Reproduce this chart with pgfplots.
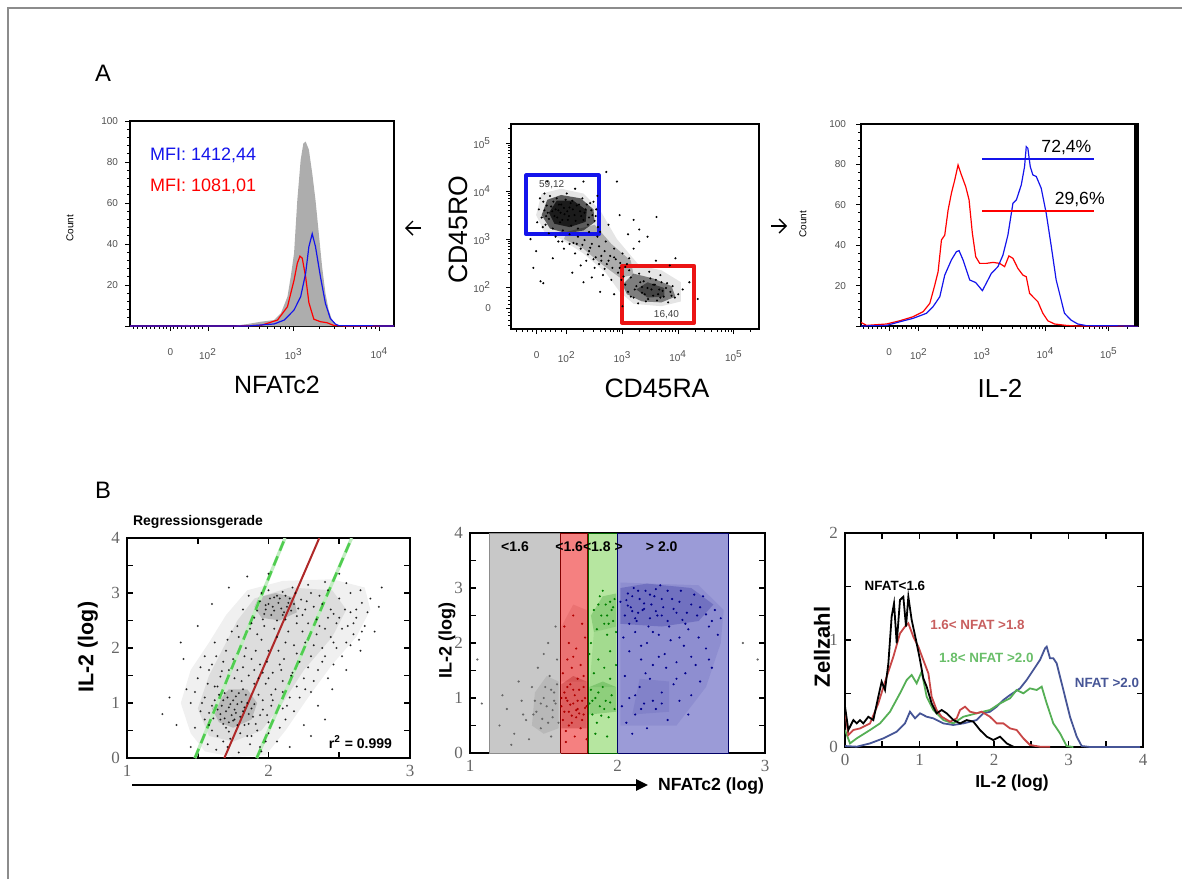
\documentclass[border=0pt]{standalone}
\usepackage{fontspec}
\setmainfont{Liberation Sans}
\newfontfamily\serif{Liberation Serif}
\usepackage{pgfplots}
\pgfplotsset{compat=1.18}
\usetikzlibrary{arrows.meta}

\definecolor{gateblue}{RGB}{20,20,235}
\definecolor{gatered}{RGB}{235,20,20}
\definecolor{tk}{RGB}{80,80,80}
\definecolor{bgray}{RGB}{200,200,200}
\definecolor{bred}{RGB}{245,128,128}
\definecolor{bgreen}{RGB}{182,230,160}
\definecolor{bblue}{RGB}{155,155,215}
\definecolor{cred}{RGB}{200,70,70}
\definecolor{cgreen}{RGB}{85,175,85}
\definecolor{cblue}{RGB}{70,85,150}
\definecolor{lred}{RGB}{200,95,95}
\definecolor{lgreen}{RGB}{105,190,105}
\definecolor{regred}{RGB}{175,40,40}
\definecolor{reggreen}{RGB}{80,205,80}
\definecolor{frame}{RGB}{140,140,140}

\pgfplotsset{
  facs/.style={scale only axis, anchor=south west,
    axis line style={line width=0.7pt},
    tick align=outside, tick pos=left,
    major tick length=2.5pt, minor tick length=1.4pt,
    every tick/.append style={black, line width=0.45pt},
    tick label style={font=\fontsize{5}{6}\selectfont, text=tk},
    xticklabel style={yshift=-5pt},
    /pgf/number format/assume math mode=true},
  simb/.style={scale only axis, anchor=south west,
    axis line style={line width=0.9pt},
    tick align=inside, major tick length=3pt,
    every tick/.append style={black, line width=0.8pt},
    tick label style={font=\serif\fontsize{8.5}{9}\selectfont, text=black!60},
    /pgf/number format/assume math mode=true},
}

\begin{document}
\begin{tikzpicture}
\path[use as bounding box] (0pt,0pt) rectangle (591pt,-439.5pt);

% ---------------- A1: NFATc2 histogram
\begin{axis}[facs, at={(65pt,-163pt)}, width=132pt, height=102.5pt,
  xmin=1.09, xmax=4.17, ymin=0, ymax=100,
  xtick={1.56,2,3,4},
  xticklabels={0,10\textsuperscript{2},10\textsuperscript{3},10\textsuperscript{4}},
  minor xtick={1.13,1.18,1.23,1.28,1.33,1.38,1.43,1.48,1.52,1.60,1.64,1.69,1.74,1.79,1.84,1.89,1.94,
    2.301,2.477,2.602,2.699,2.778,2.845,2.903,2.954,3.301,3.477,3.602,3.699,3.778,3.845,3.903,3.954},
  ytick={0,20,40,60,80,100}, yticklabels={,20,40,60,80,100}, minor y tick num=4]
\addplot[fill=black!32, draw=none] coordinates {
  (1.09,0) (1.65,0) (1.75,0.6) (1.85,0) (2.3,0) (2.465,1.0) (2.618,2.1) (2.772,2.9)
  (2.85,6.2) (2.927,14.3) (2.965,24) (3.004,35.5) (3.042,61.5) (3.081,81) (3.112,89)
  (3.139,90) (3.177,86) (3.216,74.5) (3.254,61.5) (3.293,45) (3.331,29) (3.37,16)
  (3.408,7.8) (3.447,2.9) (3.505,0.3) (3.6,0) (4.17,0)};
\addplot[red, line width=0.6pt] coordinates {
  (1.09,0) (2.3,0) (2.618,0.3) (2.811,2.9) (2.927,9.4) (3.004,22.4) (3.042,30.6)
  (3.073,34.1) (3.1,33) (3.139,24) (3.177,11.4) (3.235,3.3) (3.312,2.1) (3.389,1.6)
  (3.466,0.3) (3.6,0) (4.17,0)};
\addplot[gateblue, line width=0.6pt] coordinates {
  (1.09,0) (2.465,0) (2.772,1) (2.889,2.9) (3.004,7.8) (3.081,14.3) (3.139,25.7)
  (3.177,38.7) (3.216,45) (3.254,38.7) (3.312,24) (3.37,11) (3.427,3.7) (3.485,1)
  (3.524,0.2) (4.17,0)};
\end{axis}

% ---------------- A2: CD45RA / CD45RO dot plot
\begin{axis}[facs, at={(255.5pt,-164.5pt)}, width=124pt, height=102.5pt,
  xmin=1.0, xmax=5.45, ymin=1.125, ymax=5.4,
  xtick={1.46,2,3,4,5},
  xticklabels={0,10\textsuperscript{2},10\textsuperscript{3},10\textsuperscript{4},10\textsuperscript{5}},
  ytick={1.56,2,3,4,5},
  yticklabels={0,10\textsuperscript{2},10\textsuperscript{3},10\textsuperscript{4},10\textsuperscript{5}},
  yticklabel style={xshift=-4pt},
  minor xtick={1.1,1.2,1.3,1.38,1.54,1.62,1.7,1.8,1.9,2.301,2.477,2.602,2.699,2.778,2.845,2.903,2.954,
    3.301,3.477,3.602,3.699,3.778,3.845,3.903,3.954,4.301,4.477,4.602,4.699,4.778,4.845,4.903,4.954,5.301},
  minor ytick={1.2,1.3,1.4,1.48,1.64,1.72,1.8,1.9,2.301,2.477,2.602,2.699,2.778,2.845,2.903,2.954,
    3.301,3.477,3.602,3.699,3.778,3.845,3.903,3.954,4.301,4.477,4.602,4.699,4.778,4.845,4.903,4.954,5.301}]
\addplot[fill=black, fill opacity=0.1, draw=none] coordinates {
  (1.45,3.5) (1.55,3.95) (1.9,4.05) (2.3,3.95) (2.6,3.6) (2.9,3.0) (3.3,2.45) (3.7,2.35)
  (4.05,2.1) (4.05,1.7) (3.7,1.6) (3.2,1.65) (2.95,1.9) (2.7,2.3) (2.3,2.7) (1.9,3.0) (1.6,3.15)};
\addplot[fill=black, fill opacity=0.25, draw=none] coordinates {
  (2.0,3.15) (2.5,3.3) (2.8,2.9) (3.15,2.55) (3.2,2.25) (2.95,2.2) (2.6,2.5) (2.3,2.8) (1.95,3.0)};
\addplot[fill=black, fill opacity=0.6, draw=none] coordinates {
  (1.55,3.5) (1.65,3.82) (1.9,3.92) (2.25,3.85) (2.48,3.62) (2.5,3.35) (2.3,3.18) (2.0,3.12) (1.7,3.22)};
\addplot[fill=black, fill opacity=0.7, draw=none] coordinates {
  (1.68,3.55) (1.82,3.8) (2.12,3.8) (2.36,3.6) (2.34,3.36) (2.05,3.25) (1.78,3.32)};
\addplot[fill=black, fill opacity=0.45, draw=none] coordinates {
  (3.0,2.05) (3.2,2.28) (3.55,2.18) (3.88,2.02) (3.95,1.8) (3.7,1.68) (3.35,1.7) (3.08,1.85)};
\addplot[fill=black, fill opacity=0.45, draw=none] coordinates {
  (3.25,1.95) (3.45,2.1) (3.75,1.98) (3.75,1.8) (3.45,1.78)};
\addplot[only marks, mark=*, mark size=0.3pt, black] coordinates {
  (1.50,3.62) (1.55,3.45) (1.58,3.78) (1.62,3.30) (1.66,3.55) (1.70,3.90) (1.72,3.68) (1.75,3.22)
  (1.78,3.48) (1.82,3.85) (1.85,3.60) (1.88,3.35) (1.90,3.72) (1.93,3.18) (1.96,3.52) (2.00,3.95)
  (2.02,3.40) (2.05,3.66) (2.08,3.28) (2.10,3.80) (2.14,3.50) (2.18,3.70) (2.20,3.22) (2.24,3.58)
  (2.28,3.85) (2.30,3.40) (2.34,3.62) (2.38,3.30) (2.42,3.75) (2.46,3.50) (2.50,3.38) (2.53,3.62)
  (1.60,3.95) (2.15,4.05) (1.47,3.35) (2.40,3.15) (1.68,3.12) (2.56,3.25)
  (1.60,3.60) (1.64,3.70) (1.68,3.42) (1.74,3.58) (1.76,3.78) (1.80,3.62) (1.83,3.45) (1.86,3.72)
  (1.89,3.55) (1.92,3.40) (1.95,3.65) (1.98,3.82) (2.01,3.58) (2.04,3.48) (2.07,3.75) (2.11,3.62)
  (2.16,3.38) (2.22,3.72) (2.26,3.48) (2.32,3.55) (2.36,3.72) (2.40,3.45) (2.44,3.60) (1.57,3.25)
  (1.52,3.85) (2.48,3.78) (2.52,3.48) (1.63,3.48)
  (1.80,3.05) (1.92,2.95) (2.05,3.10) (2.12,2.92) (2.20,3.05) (2.25,2.80) (2.32,2.98) (2.40,2.75)
  (2.45,2.90) (2.52,2.62) (2.58,2.85) (2.62,2.55) (2.68,2.75) (2.72,2.48) (2.78,2.65) (2.82,2.40)
  (2.88,2.58) (2.92,2.30) (2.96,2.50) (3.02,2.22) (3.05,2.42) (2.55,3.05) (2.70,2.95) (2.85,2.80)
  (3.00,2.70) (3.12,2.60) (2.35,2.55) (2.50,2.40) (2.65,2.25) (2.80,2.15) (2.15,2.70) (1.95,2.80)
  (2.60,3.15) (3.20,2.80) (3.30,2.95) (2.45,2.20) (2.25,2.45)
  (2.18,2.90) (2.28,2.88) (2.38,2.68) (2.48,2.58) (2.58,2.48) (2.68,2.38) (2.75,2.55) (2.85,2.62)
  (2.95,2.40) (2.98,2.15) (3.08,2.48) (2.62,2.65) (2.42,2.82) (2.05,2.90) (1.85,2.95)
  (3.05,2.05) (3.10,1.90) (3.15,2.20) (3.20,1.78) (3.25,2.02) (3.30,2.28) (3.35,1.88) (3.38,2.12)
  (3.42,1.70) (3.45,1.98) (3.50,2.18) (3.55,1.82) (3.58,2.05) (3.62,1.72) (3.66,1.95) (3.70,2.10)
  (3.74,1.80) (3.78,1.98) (3.82,1.68) (3.86,1.90) (3.90,2.02) (3.94,1.78) (3.28,1.66) (3.48,2.32)
  (3.68,2.25) (4.00,1.85) (4.08,1.95) (3.12,2.35)
  (3.15,1.80) (3.22,1.95) (3.32,2.10) (3.40,1.85) (3.52,1.95) (3.60,2.15) (3.64,1.85) (3.72,1.92)
  (3.80,2.08) (3.88,1.82) (3.46,1.75) (3.55,2.05) (3.35,2.00) (3.68,1.78)
  (1.53,2.12) (1.58,2.08) (1.40,2.40) (1.75,2.60) (2.71,4.40) (2.90,4.20) (3.61,3.46) (3.30,3.20)
  (3.45,3.05) (2.95,3.50) (3.20,3.40) (1.35,3.00) (1.45,2.75) (2.10,2.30) (2.30,2.10) (2.60,1.90)
  (2.85,1.85) (3.00,1.60) (4.20,2.10) (4.35,1.75) (3.85,2.45) (3.95,2.60) (3.60,2.55) (2.30,4.20)
  (1.65,4.20) (2.55,3.90) (3.10,3.10) (2.75,3.30)};
\addplot[gateblue, line width=2pt, line join=round] coordinates {
  (1.9,3.1) (2.575,3.1) (2.575,4.33) (1.277,4.33) (1.277,3.1) (1.9,3.1)};
\addplot[gatered, line width=2pt, line join=round] coordinates {
  (3.6,1.256) (4.285,1.256) (4.285,2.444) (2.993,2.444) (2.993,1.256) (3.6,1.256)};
\node[font=\fontsize{5}{6}\selectfont, text=black!75] at (axis cs:1.73,4.13) {59,12};
\node[font=\fontsize{5}{6}\selectfont, text=black!75] at (axis cs:3.79,1.42) {16,40};
\end{axis}

% ---------------- A3: IL-2 histogram
\begin{axis}[facs, at={(430.5pt,-163pt)}, width=138.5pt, height=101pt,
  xmin=1.087, xmax=5.46, ymin=0, ymax=100,
  xtick={1.53,2,3,4,5},
  xticklabels={0,10\textsuperscript{2},10\textsuperscript{3},10\textsuperscript{4},10\textsuperscript{5}},
  minor xtick={1.13,1.2,1.27,1.34,1.41,1.47,1.6,1.67,1.74,1.81,1.88,1.94,2.301,2.477,2.602,2.699,2.778,2.845,2.903,2.954,
    3.301,3.477,3.602,3.699,3.778,3.845,3.903,3.954,4.301,4.477,4.602,4.699,4.778,4.845,4.903,4.954,5.301},
  ytick={0,20,40,60,80,100}, yticklabels={,20,40,60,80,100}, minor y tick num=4,
  yticklabel style={xshift=-1.5pt}]
\addplot[red, line width=0.6pt] coordinates {
  (1.087,1.8) (1.098,1.6) (1.176,0.3) (1.491,1.0) (1.70,2.6) (1.91,4.6) (2.068,7.1) (2.173,11.2)
  (2.252,20.3) (2.304,26.9) (2.357,42.6) (2.409,45) (2.462,57.4) (2.514,65.7) (2.567,72.3)
  (2.619,79.7) (2.672,74.8) (2.74,69) (2.793,62.4) (2.845,45.9) (2.898,34.3) (2.961,31)
  (3.066,31) (3.171,31.5) (3.276,31) (3.354,29.4) (3.422,34.7) (3.485,33.5) (3.564,28.5)
  (3.643,25.2) (3.696,24.4) (3.748,16.2) (3.8,14.5) (3.879,12) (3.958,6.3) (4.036,2.6)
  (4.142,1.0) (4.326,0.3) (4.483,0) (5.46,0)};
\addplot[gateblue, line width=0.6pt] coordinates {
  (1.087,0) (1.098,0) (1.491,0.3) (1.70,2.1) (1.91,3.8) (2.121,6.3) (2.225,9.6) (2.331,14.5)
  (2.409,25.2) (2.514,32.7) (2.593,36.8) (2.635,37.3) (2.698,32.7) (2.803,22.8) (2.898,21.5)
  (3.003,17.5) (3.091,22.8) (3.144,26) (3.249,29.4) (3.328,35.1) (3.406,45) (3.485,60.7)
  (3.539,62.4) (3.617,69.8) (3.669,78.9) (3.696,88.8) (3.721,88) (3.759,78.9) (3.80,74.8)
  (3.854,74) (3.932,68.2) (4.011,55.8) (4.09,39.6) (4.168,22.8) (4.247,12.9) (4.299,6.3)
  (4.404,2.9) (4.509,1.0) (4.641,0.2) (5.46,0)};
\addplot[draw=gateblue, line width=1pt] coordinates {(3.003,82.5) (4.772,82.5)};
\addplot[draw=red, line width=1pt] coordinates {(3.003,57) (4.772,57)};
\node[font=\fontsize{8.8}{9}\selectfont] at (axis cs:4.33,88.5) {72,4\%};
\node[font=\fontsize{8.8}{9}\selectfont] at (axis cs:4.54,62.5) {29,6\%};
\draw[line width=1.8pt] ([xshift=-0.9pt]rel axis cs:1,0) -- ([xshift=-0.9pt]rel axis cs:1,1);
\end{axis}

% ---------------- B1: regression
\begin{axis}[simb, at={(63.5pt,-379pt)}, width=141.5pt, height=110pt,
  xmin=1, xmax=3, ymin=0, ymax=4,
  xtick={1,1.5,2,2.5,3}, xticklabels={1,,2,,3},
  ytick={0,0.5,1,1.5,2,2.5,3,3.5,4}, yticklabels={0,,1,,2,,3,,4}]
\addplot[fill=black, fill opacity=0.06, draw=none] coordinates {
  (1.38,1.0) (1.45,0.45) (1.55,0.12) (1.75,0.02) (1.98,0.05) (2.12,0.5) (2.28,1.1) (2.45,1.7)
  (2.62,2.2) (2.72,2.7) (2.68,3.1) (2.45,3.25) (2.1,3.22) (1.85,3.05) (1.7,2.6) (1.58,2.1) (1.45,1.6)};
\addplot[fill=black, fill opacity=0.08, draw=none] coordinates {
  (1.5,0.9) (1.58,0.4) (1.75,0.3) (1.95,0.5) (2.1,1.0) (2.25,1.6) (2.45,2.2) (2.55,2.7)
  (2.45,3.05) (2.15,3.1) (1.9,2.9) (1.78,2.5) (1.68,2.0) (1.58,1.5)};
\addplot[fill=black, fill opacity=0.16, draw=none] coordinates {
  (1.6,0.9) (1.65,0.65) (1.75,0.55) (1.88,0.7) (1.92,1.0) (1.85,1.25) (1.72,1.25)};
\addplot[fill=black, fill opacity=0.16, draw=none] coordinates {
  (1.9,2.75) (1.95,2.55) (2.08,2.5) (2.2,2.65) (2.18,2.92) (2.05,3.0) (1.93,2.92)};
\addplot[only marks, mark=*, mark size=0.28pt, black, opacity=0.7] coordinates {
  (1.52,0.85) (1.55,1.10) (1.58,0.60) (1.60,0.95) (1.62,1.30) (1.64,0.40) (1.66,0.80) (1.68,1.05)
  (1.70,0.55) (1.72,0.92) (1.74,1.22) (1.76,0.70) (1.78,0.98) (1.80,0.45) (1.82,0.85) (1.84,1.15)
  (1.86,0.62) (1.88,0.90) (1.90,1.35) (1.92,0.50) (1.94,0.78) (1.96,1.05) (1.98,0.30) (2.00,0.65)
  (2.02,0.95) (1.57,0.25) (1.63,0.15) (1.71,0.20) (1.79,0.10) (1.87,0.25) (1.95,0.12) (1.48,0.55)
  (1.45,1.00) (1.42,1.25) (1.50,1.45) (1.58,1.60) (1.66,1.48) (1.73,0.35) (1.81,1.40) (1.69,0.72)
  (1.77,0.82) (1.83,0.60) (1.75,1.05) (1.67,0.95) (1.61,0.72) (1.85,1.00) (1.72,0.65) (1.79,1.18)
  (1.65,1.15) (1.89,0.75)
  (1.70,0.85) (1.73,0.98) (1.76,0.88) (1.80,0.75) (1.74,0.78) (1.68,0.62) (1.81,1.02) (1.77,1.12)
  (1.71,1.10) (1.66,0.70) (1.83,0.92) (1.78,0.60) (1.72,0.48) (1.86,0.80) (1.64,0.88) (1.69,1.18)
  (1.75,0.68) (1.82,1.25) (1.90,0.98) (1.62,1.05) (1.58,0.82) (1.55,0.70) (1.53,1.00) (1.93,1.15)
  (1.96,0.88) (1.99,0.78) (1.91,0.62) (1.85,0.40) (1.68,0.30) (1.60,0.50)
  (1.55,1.85) (1.62,2.10) (1.68,1.75) (1.74,2.30) (1.78,1.60) (1.84,2.00) (1.88,1.80) (1.92,2.25)
  (1.96,1.55) (2.00,1.95) (2.04,2.35) (2.08,1.70) (2.12,2.10) (2.16,1.50) (2.20,1.90) (2.24,2.30)
  (2.28,1.65) (2.32,2.05) (2.36,2.40) (2.40,1.85) (2.44,2.20) (2.48,2.00) (2.52,2.35) (2.05,1.25)
  (2.10,1.40) (2.15,1.10) (2.20,1.30) (2.25,1.45) (2.30,1.20) (1.98,1.35) (2.02,1.15) (1.94,1.70)
  (1.82,1.65) (1.70,1.95) (1.60,1.70) (2.35,1.60) (2.42,1.45) (2.55,2.10) (2.60,2.25) (2.18,0.85)
  (2.12,0.70) (2.08,0.55) (2.06,0.30)
  (1.48,1.20) (1.52,1.65) (1.57,1.35) (1.63,1.85) (1.67,1.58) (1.71,2.15) (1.75,1.80) (1.79,2.20)
  (1.83,1.85) (1.87,2.35) (1.91,1.95) (1.95,2.15) (1.99,1.75) (2.03,1.55) (2.07,1.95) (2.11,1.80)
  (2.14,2.30) (2.18,2.05) (2.22,1.75) (2.26,2.10) (2.30,1.85) (2.34,2.25) (2.38,2.00) (2.42,2.55)
  (2.46,2.10) (2.50,2.55) (2.56,2.40) (2.62,2.70) (2.66,2.30) (2.58,2.65) (2.44,2.70) (2.40,2.35)
  (2.28,2.45) (2.20,2.45) (2.06,2.20) (1.97,2.40) (1.86,1.50) (1.90,1.60) (2.00,1.45) (2.10,1.20)
  (2.13,0.95) (2.22,1.10) (2.26,1.25) (2.17,1.55) (2.09,1.60) (1.93,1.45) (1.76,1.45) (1.72,1.60)
  (1.64,1.30) (2.03,1.05) (2.00,0.45) (1.88,0.40) (1.94,0.20) (2.10,0.90) (2.32,1.40) (2.38,1.75)
  (2.46,1.70) (2.52,1.85) (2.58,2.05) (2.64,2.15)
  (1.82,2.70) (1.86,2.95) (1.90,2.55) (1.94,2.85) (1.97,2.62) (2.00,3.05) (2.03,2.75) (2.06,2.50)
  (2.08,2.90) (2.11,2.65) (2.14,2.82) (2.17,3.10) (2.20,2.58) (2.23,2.88) (2.26,2.70) (2.30,3.00)
  (2.34,2.52) (2.38,2.80) (2.42,3.05) (2.46,2.62) (2.50,2.90) (2.54,2.70) (2.58,3.00) (2.62,2.55)
  (2.66,2.82) (2.70,2.65) (1.98,2.78) (2.04,2.92) (2.09,2.72) (2.12,2.95) (2.16,2.68) (2.02,2.60)
  (1.95,3.00) (1.88,2.45) (1.78,2.40) (2.28,3.15) (2.40,3.20) (2.55,3.18) (2.65,3.05) (2.72,2.90)
  (2.68,2.40) (2.60,2.45) (2.48,2.45)
  (2.00,2.80) (2.04,2.68) (2.07,2.82) (2.10,2.60) (2.13,2.75) (2.06,2.95) (2.01,2.90) (1.98,2.70)
  (2.15,2.90) (2.18,2.80) (2.21,2.72) (2.10,3.02) (1.96,2.52) (2.24,2.60) (2.12,2.52) (1.92,2.68)
  (2.19,3.00) (2.27,2.85) (2.32,2.75) (2.36,2.95)
  (1.30,1.10) (1.35,0.60) (1.40,1.80) (1.50,2.40) (1.60,2.80) (1.45,0.20) (1.38,2.10) (2.15,0.20)
  (2.25,0.60) (2.35,0.95) (2.45,1.25) (2.55,1.60) (2.65,1.95) (2.75,2.30) (2.78,2.75) (2.80,3.10)
  (1.72,3.10) (1.85,3.30) (2.00,3.35) (2.50,3.35) (2.30,0.40) (1.25,0.80) (2.40,0.70)};
\addplot[reggreen!35, line width=1.6pt] coordinates {(1.48,0) (2.117,4)};
\addplot[reggreen!35, line width=1.6pt] coordinates {(1.917,0) (2.588,4)};
\addplot[reggreen, line width=1.3pt, dash pattern=on 5pt off 3pt] coordinates {(1.48,0) (2.117,4)};
\addplot[reggreen, line width=1.3pt, dash pattern=on 5pt off 3pt] coordinates {(1.917,0) (2.588,4)};
\addplot[regred, line width=1pt] coordinates {(1.688,0) (2.359,4)};
\end{axis}

% ---------------- B2: NFAT bands
\begin{axis}[simb, at={(235pt,-376.5pt)}, width=147.5pt, height=110pt,
  xmin=1, xmax=3, ymin=0, ymax=4,
  xtick={1,1.5,2,2.5,3}, xticklabels={1,,2,,3},
  ytick={0,0.5,1,1.5,2,2.5,3,3.5,4}, yticklabels={0,,1,,2,,3,,4}]
\addplot[fill=bgray, draw=black!45, line width=0.3pt] coordinates {(1.13,0) (1.13,4) (1.614,4) (1.614,0) (1.13,0)};
\addplot[fill=bred, draw=red!50!black, line width=0.4pt] coordinates {(1.614,0) (1.614,4) (1.797,4) (1.797,0) (1.614,0)};
\addplot[fill=bgreen, draw=green!40!black, line width=0.4pt] coordinates {(1.806,0) (1.806,4) (2.0,4) (2.0,0) (1.806,0)};
\addplot[fill=bblue, draw=blue!40!black, line width=0.4pt] coordinates {(2.0,0) (2.0,4) (2.751,4) (2.751,0) (2.0,0)};
\addplot[fill=black, fill opacity=0.08, draw=none] coordinates {(1.42,0.5) (1.5,0.35) (1.6,0.45) (1.6,1.3) (1.52,1.4) (1.44,1.1)};
\addplot[fill=red!60!black, fill opacity=0.25, draw=none] coordinates {(1.62,0.45) (1.79,0.45) (1.79,1.3) (1.7,1.4) (1.62,1.25)};
\addplot[fill=red!60!black, fill opacity=0.1, draw=none] coordinates {(1.62,1.3) (1.79,1.3) (1.79,2.6) (1.7,2.7) (1.62,2.3)};
\addplot[fill=green!50!black, fill opacity=0.22, draw=none] coordinates {(1.81,0.7) (1.99,0.75) (1.99,1.2) (1.9,1.3) (1.81,1.2)};
\addplot[fill=green!50!black, fill opacity=0.1, draw=none] coordinates {(1.81,1.2) (1.99,1.2) (1.99,2.3) (1.84,2.2)};
\addplot[fill=green!50!black, fill opacity=0.22, draw=none] coordinates {(1.84,2.2) (1.99,2.3) (1.99,2.9) (1.9,2.85) (1.82,2.5)};
\addplot[fill=blue!50!black, fill opacity=0.08, draw=none] coordinates {(2.02,0.5) (2.4,0.5) (2.6,1.2) (2.7,2.0) (2.72,2.6) (2.55,3.05) (2.02,3.1)};
\addplot[fill=blue!50!black, fill opacity=0.2, draw=none] coordinates {(2.02,2.35) (2.3,2.3) (2.55,2.4) (2.65,2.7) (2.5,3.0) (2.2,3.08) (2.02,3.0)};
\addplot[fill=blue!50!black, fill opacity=0.08, draw=none] coordinates {(2.1,0.7) (2.35,0.75) (2.35,1.3) (2.15,1.35)};
\addplot[only marks, mark=*, mark size=0.32pt, black!60] coordinates {
  (1.20,0.50) (1.25,0.80) (1.30,0.35) (1.35,0.95) (1.38,0.60) (1.42,1.20) (1.45,0.75) (1.48,0.45)
  (1.50,1.00) (1.52,0.85) (1.54,1.40) (1.56,0.65) (1.57,1.10) (1.58,0.90) (1.59,1.70) (1.60,0.55)
  (1.46,1.55) (1.40,0.25) (1.33,1.30) (1.28,0.15) (1.55,0.30) (1.53,2.00) (1.58,2.30) (1.50,1.80)
  (1.44,0.95) (1.36,0.70) (1.22,1.05) (1.56,0.78) (1.49,0.62) (1.59,1.25) (1.05,1.70) (1.08,0.90)
  (1.48,0.90) (1.53,0.55) (1.57,0.95) (1.51,1.20) (1.43,0.70) (1.55,1.15) (2.85,2.00) (2.95,1.70)};
\addplot[only marks, mark=*, mark size=0.32pt, red!70!black] coordinates {
  (1.62,0.85) (1.63,0.60) (1.64,1.10) (1.65,0.40) (1.66,0.95) (1.67,0.75) (1.68,1.25) (1.69,0.55)
  (1.70,0.90) (1.71,1.05) (1.72,0.65) (1.73,0.80) (1.74,1.15) (1.75,0.45) (1.76,0.95) (1.77,0.70)
  (1.78,1.00) (1.79,0.85) (1.63,1.45) (1.66,1.70) (1.69,1.55) (1.72,1.90) (1.75,1.60) (1.78,2.10)
  (1.64,2.30) (1.70,2.50) (1.76,2.35) (1.67,2.00) (1.73,1.35) (1.77,1.40) (1.65,0.20) (1.71,0.30)
  (1.79,0.25) (1.68,0.88) (1.74,0.72) (1.66,1.20) (1.70,1.75) (1.62,1.00)
  (1.64,0.75) (1.67,0.50) (1.70,1.15) (1.73,0.95) (1.76,0.60) (1.78,0.82) (1.65,1.00) (1.72,0.78)
  (1.77,1.20) (1.69,0.68)};
\addplot[only marks, mark=*, mark size=0.32pt, green!50!black] coordinates {
  (1.81,0.90) (1.82,1.15) (1.83,0.70) (1.85,1.00) (1.86,0.55) (1.88,0.85) (1.90,1.20) (1.92,0.95)
  (1.94,0.65) (1.96,1.05) (1.98,0.80) (1.84,1.45) (1.87,1.70) (1.91,1.55) (1.95,1.85) (1.99,1.60)
  (1.82,2.00) (1.86,2.25) (1.89,2.50) (1.92,2.70) (1.94,2.35) (1.96,2.60) (1.98,2.80) (1.88,2.85)
  (1.84,2.60) (1.93,2.15) (1.97,2.40) (1.90,2.95) (1.85,0.35) (1.93,0.30) (1.99,2.20) (1.95,1.35)
  (1.81,1.80) (1.83,0.95) (1.87,1.10) (1.91,0.80) (1.95,0.92) (1.89,0.68) (1.97,2.65) (1.93,2.50)
  (1.87,2.70) (1.91,2.35) (1.95,2.75)};
\addplot[only marks, mark=*, mark size=0.32pt, blue!55!black] coordinates {
  (2.02,2.75) (2.05,2.50) (2.07,2.90) (2.09,2.65) (2.11,3.00) (2.13,2.40) (2.15,2.80) (2.17,2.60)
  (2.19,2.95) (2.21,2.30) (2.23,2.70) (2.25,2.85) (2.27,2.50) (2.29,3.05) (2.31,2.65) (2.34,2.40)
  (2.37,2.80) (2.40,2.55) (2.43,2.95) (2.46,2.35) (2.50,2.70) (2.54,2.50) (2.58,2.85) (2.62,2.30)
  (2.66,2.60) (2.70,2.45) (2.04,2.10) (2.08,1.85) (2.12,2.20) (2.16,1.70) (2.20,2.00) (2.24,1.60)
  (2.28,2.15) (2.32,1.80) (2.36,2.05) (2.40,1.65) (2.45,1.95) (2.50,1.75) (2.55,2.10) (2.60,1.90)
  (2.05,1.40) (2.08,1.00) (2.12,0.70) (2.15,1.20) (2.18,0.90) (2.22,1.35) (2.26,0.80) (2.30,1.10)
  (2.34,0.60) (2.38,1.25) (2.42,0.95) (2.46,1.45) (2.50,1.05) (2.03,0.85) (2.06,0.55) (2.10,0.35)
  (2.20,0.45) (2.48,0.70) (2.56,1.30) (2.64,1.55) (2.14,2.55) (2.18,2.72) (2.22,2.45) (2.26,2.98)
  (2.10,2.85) (2.07,2.68)
  (2.06,2.78) (2.10,2.58) (2.14,2.95) (2.18,2.62) (2.22,2.88) (2.26,2.58) (2.30,2.80) (2.34,2.95)
  (2.38,2.62) (2.42,2.75) (2.47,2.55) (2.52,2.88) (2.56,2.65) (2.12,2.45) (2.30,2.50) (2.44,2.42)
  (2.60,2.52) (2.08,2.35) (2.24,2.20) (2.35,2.30) (2.48,2.25) (2.64,2.40) (2.68,2.15) (2.16,1.95)
  (2.28,1.75) (2.42,2.10) (2.53,1.60) (2.62,1.70) (2.19,1.45) (2.33,1.55) (2.12,1.05) (2.24,0.95)
  (2.16,0.80) (2.30,0.90) (2.40,1.35)};
\node[font=\bfseries\fontsize{7}{8}\selectfont] at (axis cs:1.305,3.75) {<1.6};
\node[font=\bfseries\fontsize{7}{8}\selectfont] at (axis cs:1.807,3.75) {<1.6<1.8 >};
\node[font=\bfseries\fontsize{7}{8}\selectfont] at (axis cs:2.30,3.75) {> 2.0};
\end{axis}

% ---------------- B3: IL-2 histograms per NFAT class
\begin{axis}[simb, at={(422.5pt,-373.5pt)}, width=149pt, height=107pt,
  xmin=0, xmax=4, ymin=0, ymax=2,
  xtick={0,0.5,1,1.5,2,2.5,3,3.5,4}, xticklabels={0,,1,,2,,3,,4},
  ytick={0,0.5,1,1.5,2}, yticklabels={0,,1,,2}]
\addplot[cblue, line width=0.9pt] coordinates {
  (0,0.009) (0.157,0.003) (0.336,0.034) (0.515,0.081) (0.694,0.143) (0.805,0.221) (0.872,0.33)
  (0.94,0.268) (1.007,0.315) (1.096,0.283) (1.186,0.268) (1.32,0.221) (1.454,0.206) (1.588,0.221)
  (1.767,0.252) (1.857,0.315) (1.946,0.33) (2.036,0.377) (2.125,0.439) (2.215,0.486) (2.349,0.548)
  (2.438,0.626) (2.528,0.72) (2.617,0.813) (2.685,0.922) (2.707,0.938) (2.752,0.829) (2.796,0.829)
  (2.841,0.782) (2.931,0.533) (3.020,0.283) (3.110,0.097) (3.177,0.009) (3.289,0) (3.96,0)};
\addplot[cgreen, line width=0.9pt] coordinates {
  (0,0.159) (0.067,0.034) (0.157,0.081) (0.336,0.159) (0.47,0.221) (0.604,0.33) (0.738,0.502)
  (0.828,0.626) (0.895,0.673) (0.962,0.595) (1.029,0.704) (1.096,0.47) (1.186,0.346) (1.32,0.252)
  (1.454,0.221) (1.588,0.283) (1.767,0.315) (1.946,0.346) (2.081,0.408) (2.215,0.455) (2.304,0.533)
  (2.394,0.502) (2.483,0.548) (2.573,0.533) (2.64,0.564) (2.707,0.408) (2.796,0.221) (2.886,0.128)
  (2.975,0.009) (3.065,0)};
\addplot[cred, line width=0.9pt] coordinates {
  (0,0.346) (0.045,0.112) (0.112,0.159) (0.201,0.174) (0.336,0.221) (0.447,0.408) (0.559,0.657)
  (0.649,0.844) (0.738,1.062) (0.805,1.125) (0.85,1.156) (0.917,1.031) (0.984,0.938) (1.051,0.813)
  (1.119,0.688) (1.163,0.47) (1.23,0.346) (1.298,0.283) (1.409,0.237) (1.499,0.268) (1.544,0.346)
  (1.611,0.377) (1.678,0.33) (1.767,0.315) (1.834,0.33) (1.946,0.283) (2.036,0.221) (2.125,0.221)
  (2.215,0.174) (2.304,0.159) (2.394,0.081) (2.483,0.019) (2.617,0.003) (2.752,0.003)};
\addplot[black, line width=0.9pt] coordinates {
  (0,0.377) (0.045,0.159) (0.112,0.252) (0.157,0.221) (0.201,0.252) (0.246,0.221) (0.313,0.283)
  (0.38,0.252) (0.447,0.47) (0.492,0.611) (0.537,0.533) (0.582,0.782) (0.626,1.218) (0.658,1.343)
  (0.694,0.969) (0.738,1.374) (0.783,1.405) (0.819,1.125) (0.85,1.405) (0.895,1.187) (0.953,1.0)
  (1.007,0.813) (1.051,0.642) (1.096,0.564) (1.163,0.408) (1.23,0.315) (1.298,0.346) (1.365,0.315)
  (1.454,0.252) (1.544,0.221) (1.633,0.252) (1.723,0.237) (1.812,0.159) (1.902,0.097) (1.991,0.065)
  (2.081,0.097) (2.17,0.034) (2.26,0.003)};
\node[anchor=west, font=\bfseries\fontsize{6.7}{8}\selectfont] at (axis cs:0.17,1.51) {NFAT<1.6};
\node[anchor=west, text=lred, font=\bfseries\fontsize{6.7}{8}\selectfont] at (axis cs:1.05,1.14) {1.6< NFAT >1.8};
\node[anchor=west, text=lgreen, font=\bfseries\fontsize{6.7}{8}\selectfont] at (axis cs:1.17,0.83) {1.8< NFAT >2.0};
\node[anchor=west, text=cblue, font=\bfseries\fontsize{6.7}{8}\selectfont] at (axis cs:2.99,0.60) {NFAT >2.0};
\end{axis}

% ---------------- texts, arrows and frame, in pixel units
\begin{scope}[x=0.5pt, y=-0.5pt]
\draw[frame, line width=1pt] (8,879) -- (8,7.5) -- (1182,7.5);
\node[font=\fontsize{11.9}{12}\selectfont] at (103,73) {A};
\node[font=\fontsize{11.9}{12}\selectfont] at (103,490) {B};
\node[rotate=90, font=\fontsize{5}{6}\selectfont] at (70,228) {Count};
\node[font=\fontsize{12.5}{13}\selectfont] at (277,385) {NFATc2};
\node[anchor=west, text=gateblue, font=\fontsize{9}{10}\selectfont] at (143,155) {MFI: 1412,44};
\node[anchor=west, text=red, font=\fontsize{9}{10}\selectfont] at (143,186) {MFI: 1081,01};
\draw[line width=0.7pt, -{Straight Barb[length=3.5pt,width=7pt]}] (421,228) -- (405,228);
\node[rotate=90, font=\fontsize{13.3}{14}\selectfont] at (458,230) {CD45RO};
\node[font=\fontsize{13.3}{14}\selectfont] at (657,388) {CD45RA};
\draw[line width=0.7pt, -{Straight Barb[length=3.5pt,width=7pt]}] (771,226) -- (787,226);
\node[rotate=90, font=\fontsize{5}{6}\selectfont] at (803,224) {Count};
\node[font=\fontsize{13}{14}\selectfont] at (1000,388) {IL-2};
\node[anchor=west, font=\bfseries\fontsize{7}{8}\selectfont] at (126,522) {Regressionsgerade};
\node[rotate=90, font=\bfseries\fontsize{10.7}{12}\selectfont] at (88,647) {IL-2 (log)};
\node[anchor=east, font=\bfseries\fontsize{7}{8}\selectfont] at (399,742) {r\textsuperscript{2} = 0.999};
\draw[line width=1.3pt, -{Triangle[length=6pt,width=5.5pt]}] (132,785) -- (648,785);
\node[anchor=west, font=\bfseries\fontsize{8.8}{10}\selectfont] at (651,786) {NFATc2 (log)};
\node[rotate=90, font=\bfseries\fontsize{9}{10}\selectfont] at (447,640) {IL-2 (log)};
\node[rotate=90, font=\bfseries\fontsize{11}{12}\selectfont] at (822,647) {Zellzahl};
\node[font=\bfseries\fontsize{8.7}{10}\selectfont] at (1012,783) {IL-2 (log)};
\end{scope}
\end{tikzpicture}
\end{document}
